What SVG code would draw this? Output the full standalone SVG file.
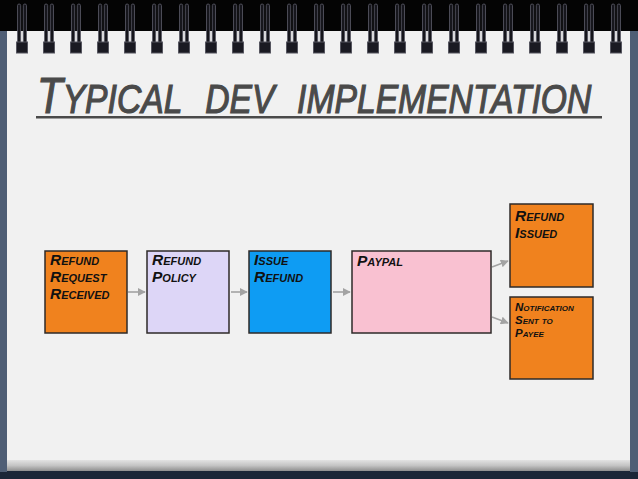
<svg xmlns="http://www.w3.org/2000/svg" xmlns:xlink="http://www.w3.org/1999/xlink" width="638" height="479" viewBox="0 0 638 479">
  <defs>
    <style>
      .lbl { font-family: "Liberation Sans", Arial, sans-serif; font-weight: bold; font-style: italic; font-variant: small-caps; fill: #111; }
      .box { stroke: #2e2a28; stroke-width: 1.5; }
      .conn { stroke: #a3a3a3; stroke-width: 1.6; fill: none; marker-end: url(#ah); }
    </style>
    <marker id="ah" viewBox="0 0 10 10" refX="9" refY="5" markerWidth="5" markerHeight="5" orient="auto" markerUnits="strokeWidth">
      <path d="M0,0 L10,5 L0,10 z" fill="#a3a3a3"/>
    </marker>
    <linearGradient id="shadow" x1="0" y1="0" x2="0" y2="1">
      <stop offset="0" stop-color="#e2e2e2"/>
      <stop offset="0.5" stop-color="#c4c4c4"/>
      <stop offset="1" stop-color="#8e8e8e"/>
    </linearGradient>
    <g id="ring">
      <rect x="-4.5" y="4" width="3.2" height="46" rx="1.6" fill="#16161c" stroke="#5c5c68" stroke-width="0.8"/>
      <rect x="1.3" y="4" width="3.2" height="46" rx="1.6" fill="#16161c" stroke="#5c5c68" stroke-width="0.8"/>
      <rect x="-5.5" y="42" width="11" height="11" fill="#1a1a22" stroke="#55555f" stroke-width="1"/>
    </g>
  </defs>

  <!-- background and paper -->
  <rect x="0" y="0" width="638" height="479" fill="#1b2637"/>
  <rect x="0" y="0" width="638" height="31" fill="#040404"/>
  <rect x="0" y="31" width="7" height="441" fill="#4f5e75"/>
  <rect x="630" y="31" width="8" height="441" fill="#4f5e75"/>
  <rect x="7" y="31" width="623" height="431" fill="#f1f1f1"/>
  <rect x="7" y="460" width="623" height="11" fill="url(#shadow)"/>

  <!-- spiral rings -->
  <g id="rings">
    <use xlink:href="#ring" x="22" y="0"/>
    <use xlink:href="#ring" x="49" y="0"/>
    <use xlink:href="#ring" x="76" y="0"/>
    <use xlink:href="#ring" x="103" y="0"/>
    <use xlink:href="#ring" x="130" y="0"/>
    <use xlink:href="#ring" x="157" y="0"/>
    <use xlink:href="#ring" x="184" y="0"/>
    <use xlink:href="#ring" x="211" y="0"/>
    <use xlink:href="#ring" x="238" y="0"/>
    <use xlink:href="#ring" x="265" y="0"/>
    <use xlink:href="#ring" x="292" y="0"/>
    <use xlink:href="#ring" x="319" y="0"/>
    <use xlink:href="#ring" x="346" y="0"/>
    <use xlink:href="#ring" x="373" y="0"/>
    <use xlink:href="#ring" x="400" y="0"/>
    <use xlink:href="#ring" x="427" y="0"/>
    <use xlink:href="#ring" x="454" y="0"/>
    <use xlink:href="#ring" x="481" y="0"/>
    <use xlink:href="#ring" x="508" y="0"/>
    <use xlink:href="#ring" x="535" y="0"/>
    <use xlink:href="#ring" x="562" y="0"/>
    <use xlink:href="#ring" x="589" y="0"/>
    <use xlink:href="#ring" x="616" y="0"/>
  </g>

  <!-- title -->
  <g id="title">
    <text transform="translate(37,113) scale(0.84,1)" x="0" y="0" font-family="'Liberation Sans', Arial, sans-serif" font-style="italic" fill="#4a4a4a" stroke="#4a4a4a" stroke-width="1.2" word-spacing="11"><tspan font-size="50">T</tspan><tspan font-size="58" font-variant="small-caps">ypical dev implementation</tspan></text>
    <rect x="36" y="116" width="566" height="2.5" fill="#4a4a4a"/>
  </g>

  <!-- connectors -->
  <g id="connectors">
    <line class="conn" x1="128" y1="292" x2="145" y2="292"/>
    <line class="conn" x1="231" y1="292" x2="247" y2="292"/>
    <line class="conn" x1="333" y1="292" x2="350" y2="292"/>
    <line class="conn" x1="492" y1="267" x2="508" y2="261"/>
    <line class="conn" x1="492" y1="317" x2="508" y2="323"/>
  </g>

  <!-- nodes -->
  <g id="refund-request-received">
    <rect class="box" x="45" y="251" width="82" height="82" fill="#f0821e"/>
    <text class="lbl" font-size="15.5"><tspan x="50" y="265">Refund</tspan><tspan x="50" y="282">Request</tspan><tspan x="50" y="299">Received</tspan></text>
  </g>
  <g id="refund-policy">
    <rect class="box" x="147" y="251" width="82" height="82" fill="#ddd6f7"/>
    <text class="lbl" font-size="15.5"><tspan x="152" y="265">Refund</tspan><tspan x="152" y="282">Policy</tspan></text>
  </g>
  <g id="issue-refund">
    <rect class="box" x="249" y="251" width="82" height="82" fill="#0e9cf3"/>
    <text class="lbl" font-size="15.5"><tspan x="254" y="265">Issue</tspan><tspan x="254" y="282">Refund</tspan></text>
  </g>
  <g id="paypal">
    <rect class="box" x="352" y="251" width="139" height="82" fill="#f9c1d1"/>
    <text class="lbl" font-size="15.5" x="357" y="266">Paypal</text>
  </g>
  <g id="refund-issued">
    <rect class="box" x="510" y="204" width="83" height="83" fill="#f0821e"/>
    <text class="lbl" font-size="15.5"><tspan x="515" y="221">Refund</tspan><tspan x="515" y="238">Issued</tspan></text>
  </g>
  <g id="notification-sent">
    <rect class="box" x="510" y="297" width="83" height="82" fill="#f0821e"/>
    <text class="lbl" font-size="11.5"><tspan x="515" y="311">Notification</tspan><tspan x="515" y="324">Sent to</tspan><tspan x="515" y="337">Payee</tspan></text>
  </g>
</svg>
